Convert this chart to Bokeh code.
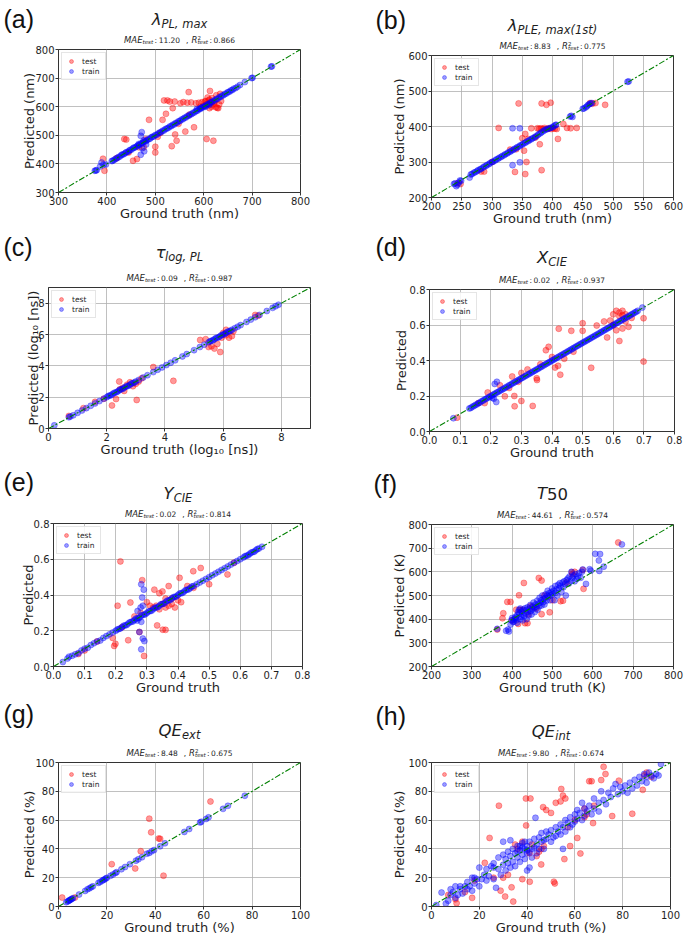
from bokeh.plotting import figure
from bokeh.models import Label, FixedTicker, Range1d, PrintfTickFormatter
from bokeh.layouts import column, row
from bokeh.embed import file_html
from bokeh.resources import INLINE

# ---------------- data ----------------
a_train = [(375,376),(377,377),(379,378),(386,391),(389,405),(393,397),(398,398),(410,410),(412,411),(415,414),(418,418),(421,420),(424,424),(427,426),(430,431),(432,433),(435,434),(438,438),(440,441),(443,442),(446,446),(448,449),(451,450),(454,455),(456,457),(459,458),(462,462),(464,465),(467,466),(470,471),(473,472),(475,476),(478,478),(481,480),(483,484),(486,486),(489,488),(492,493),(494,495),(497,496),(500,501),(503,502),(506,506),(509,510),(512,511),(515,516),(518,517),(521,522),(524,524),(527,526),(530,531),(533,532),(536,537),(539,538),(542,543),(545,544),(548,549),(551,550),(554,555),(557,556),(560,561),(563,562),(566,567),(569,568),(572,573),(575,574),(578,579),(581,580),(584,585),(587,586),(590,591),(593,592),(596,597),(599,598),(602,603),(605,604),(608,609),(611,610),(614,615),(617,616),(620,621),(623,622),(626,627),(629,628),(632,633),(635,634),(638,639),(641,640),(644,645),(647,646),(650,651),(653,652),(656,657),(659,658),(662,663),(666,665),(670,670),(675,676),(685,686),(699,700),(701,701),(739,740),(741,741),(472,511),(470,498),(476,482),(473,455),(477,444),(470,432),(466,470),(481,468),(586,592),(594,596),(604,600),(612,607)]
a_test = [(392,418),(395,376),(420,420),(436,487),(440,485),(445,440),(454,411),(462,417),(466,458),(476,458),(480,486),(487,554),(500,460),(500,440),(505,495),(510,508),(515,554),(518,622),(522,575),(525,622),(530,618),(534,462),(536,595),(540,618),(541,503),(544,481),(548,540),(552,612),(558,616),(562,513),(566,614),(569,651),(570,572),(574,615),(580,528),(584,612),(590,614),(593,600),(597,616),(600,603),(603,618),(606,487),(607,610),(610,622),(612,595),(613,655),(615,615),(617,630),(618,606),(620,481),(621,612),(623,618),(625,598),(626,640),(628,596),(630,595),(632,608),(634,645),(636,620),(612,625),(608,632),(604,620),(616,600)]

b_train = [(237,238),(239,240),(241,232),(243,236),(245,242),(247,248),(249,247),(263,256),(265,265),(267,266),(270,270),(272,271),(275,274),(277,277),(280,279),(282,281),(285,284),(287,287),(290,289),(292,292),(295,294),(297,297),(300,300),(302,301),(305,304),(307,307),(310,309),(312,312),(315,314),(317,317),(320,319),(322,322),(325,324),(327,327),(330,329),(332,332),(335,334),(337,337),(340,339),(342,342),(345,344),(347,347),(350,349),(352,352),(355,354),(357,357),(360,359),(362,362),(365,364),(367,367),(370,369),(372,372),(375,375),(377,378),(380,381),(382,384),(385,387),(387,390),(390,392),(392,393),(395,395),(397,396),(400,398),(402,401),(405,404),(406,405),(429,428),(431,430),(433,427),(450,450),(452,451),(455,454),(457,457),(459,461),(461,463),(463,465),(465,466),(524,526),(526,527),(334,395),(346,395),(334,291),(346,299)]
b_test = [(243,240),(248,238),(282,273),(287,273),(300,300),(311,396),(330,335),(338,272),(340,336),(344,465),(350,367),(353,332),(355,379),(355,266),(357,300),(360,365),(365,395),(372,369),(375,395),(378,394),(379,350),(381,395),(382,277),(382,465),(384,393),(387,396),(390,461),(391,393),(394,395),(397,467),(398,393),(401,395),(404,394),(407,393),(409,365),(418,407),(424,396),(430,395),(440,396),(462,466),(466,464),(471,466),(487,461)]

c_train = [(0.2,0.2),(0.7,0.72),(0.75,0.76),(0.85,0.84),(1.0,1.0),(1.15,1.15),(1.3,1.3),(1.45,1.45),(1.6,1.6),(1.75,1.75),(1.9,1.9),(2.0,2.0),(2.05,2.07),(2.1,2.1),(2.15,2.13),(2.2,2.2),(2.25,2.27),(2.3,2.3),(2.35,2.33),(2.4,2.4),(2.45,2.47),(2.5,2.5),(2.55,2.53),(2.6,2.6),(2.65,2.67),(2.7,2.7),(2.75,2.73),(2.8,2.8),(2.85,2.87),(2.9,2.9),(2.95,2.93),(3.0,3.0),(3.1,3.1),(3.25,3.25),(3.4,3.4),(3.6,3.6),(3.75,3.75),(3.9,3.9),(4.05,4.05),(4.2,4.2),(4.35,4.35),(4.6,4.6),(4.75,4.75),(5.0,5.0),(5.2,5.2),(5.35,5.35),(5.5,5.5),(5.55,5.57),(5.6,5.6),(5.65,5.63),(5.7,5.7),(5.75,5.77),(5.8,5.8),(5.85,5.83),(5.9,5.9),(5.95,5.97),(6.0,6.0),(6.05,6.03),(6.1,6.1),(6.15,6.17),(6.2,6.2),(6.25,6.23),(6.3,6.3),(6.4,6.4),(6.5,6.5),(6.6,6.6),(6.8,6.8),(6.95,6.95),(7.1,7.1),(7.25,7.25),(7.5,7.5),(7.7,7.7),(7.8,7.8),(7.9,7.9)]
c_test = [(0.7,0.8),(1.2,1.3),(1.6,1.7),(1.9,1.9),(2.18,1.47),(2.32,1.88),(2.43,3.0),(2.45,2.5),(2.55,2.6),(2.6,2.4),(2.7,2.8),(2.8,2.95),(2.9,2.7),(3.0,2.85),(3.03,1.82),(3.1,3.0),(3.2,3.2),(3.6,3.92),(4.29,3.04),(5.21,5.65),(5.4,5.7),(5.5,5.2),(5.6,5.25),(5.7,5.1),(5.8,5.4),(5.9,4.88),(5.95,5.8),(6.0,6.1),(6.1,5.95),(6.2,5.8),(6.3,5.9),(6.35,6.2),(6.1,6.3),(7.1,7.25),(7.2,7.2)]

d_train = [(0.078,0.075),(0.13,0.13),(0.135,0.133),(0.14,0.14),(0.145,0.143),(0.15,0.15),(0.155,0.153),(0.16,0.16),(0.165,0.163),(0.17,0.17),(0.175,0.174),(0.18,0.18),(0.185,0.184),(0.19,0.19),(0.195,0.194),(0.2,0.2),(0.205,0.204),(0.21,0.21),(0.215,0.214),(0.22,0.22),(0.225,0.224),(0.23,0.23),(0.235,0.234),(0.24,0.24),(0.245,0.244),(0.25,0.25),(0.255,0.254),(0.26,0.26),(0.265,0.264),(0.27,0.27),(0.275,0.274),(0.28,0.28),(0.285,0.284),(0.29,0.29),(0.295,0.294),(0.3,0.3),(0.305,0.304),(0.31,0.31),(0.315,0.314),(0.32,0.32),(0.325,0.324),(0.33,0.33),(0.335,0.334),(0.34,0.34),(0.345,0.344),(0.35,0.35),(0.355,0.354),(0.36,0.36),(0.365,0.364),(0.37,0.37),(0.375,0.374),(0.38,0.38),(0.385,0.384),(0.39,0.39),(0.395,0.394),(0.4,0.4),(0.405,0.404),(0.41,0.41),(0.415,0.414),(0.42,0.42),(0.425,0.424),(0.43,0.43),(0.435,0.434),(0.44,0.44),(0.445,0.444),(0.45,0.45),(0.455,0.454),(0.46,0.46),(0.465,0.464),(0.47,0.47),(0.475,0.474),(0.48,0.48),(0.485,0.484),(0.49,0.49),(0.495,0.494),(0.5,0.5),(0.505,0.504),(0.51,0.51),(0.515,0.514),(0.52,0.52),(0.525,0.524),(0.53,0.53),(0.535,0.534),(0.54,0.54),(0.545,0.544),(0.55,0.55),(0.555,0.554),(0.56,0.56),(0.565,0.564),(0.57,0.57),(0.575,0.574),(0.58,0.58),(0.585,0.584),(0.59,0.59),(0.595,0.594),(0.6,0.6),(0.605,0.604),(0.61,0.61),(0.615,0.614),(0.62,0.62),(0.625,0.624),(0.63,0.63),(0.635,0.634),(0.64,0.64),(0.645,0.644),(0.65,0.65),(0.655,0.654),(0.66,0.66),(0.665,0.664),(0.67,0.67),(0.675,0.674),(0.68,0.68),(0.695,0.698),(0.213,0.268),(0.22,0.28),(0.21,0.185),(0.218,0.166),(0.205,0.19)]
d_test = [(0.09,0.078),(0.16,0.16),(0.18,0.16),(0.19,0.22),(0.23,0.26),(0.246,0.198),(0.26,0.245),(0.27,0.31),(0.277,0.2),(0.278,0.142),(0.29,0.28),(0.3,0.172),(0.3,0.33),(0.32,0.35),(0.337,0.144),(0.35,0.3),(0.351,0.29),(0.362,0.379),(0.38,0.458),(0.389,0.477),(0.4,0.42),(0.41,0.36),(0.42,0.37),(0.422,0.579),(0.427,0.32),(0.44,0.41),(0.463,0.567),(0.47,0.45),(0.5,0.61),(0.5,0.567),(0.528,0.359),(0.546,0.597),(0.57,0.62),(0.58,0.53),(0.59,0.625),(0.6,0.66),(0.6,0.6),(0.61,0.68),(0.61,0.57),(0.62,0.65),(0.62,0.51),(0.63,0.68),(0.63,0.58),(0.64,0.66),(0.64,0.62),(0.65,0.59),(0.66,0.64),(0.62,0.67),(0.63,0.655),(0.699,0.394),(0.699,0.638)]

e_train = [(0.03,0.025),(0.045,0.045),(0.05,0.055),(0.06,0.06),(0.07,0.068),(0.08,0.075),(0.09,0.09),(0.1,0.1),(0.11,0.105),(0.12,0.12),(0.13,0.13),(0.14,0.14),(0.15,0.145),(0.16,0.16),(0.17,0.17),(0.18,0.18),(0.19,0.19),(0.2,0.2),(0.21,0.21),(0.22,0.22),(0.23,0.23),(0.24,0.24),(0.25,0.25),(0.26,0.26),(0.27,0.27),(0.28,0.28),(0.29,0.29),(0.3,0.3),(0.31,0.31),(0.32,0.32),(0.33,0.33),(0.34,0.34),(0.35,0.35),(0.36,0.36),(0.37,0.37),(0.38,0.38),(0.39,0.39),(0.4,0.4),(0.41,0.41),(0.42,0.42),(0.43,0.43),(0.44,0.44),(0.45,0.45),(0.46,0.46),(0.47,0.47),(0.48,0.48),(0.49,0.49),(0.5,0.5),(0.51,0.51),(0.52,0.52),(0.53,0.53),(0.54,0.54),(0.55,0.55),(0.56,0.56),(0.57,0.57),(0.58,0.58),(0.59,0.59),(0.6,0.6),(0.61,0.61),(0.62,0.62),(0.63,0.63),(0.64,0.64),(0.65,0.65),(0.66,0.66),(0.67,0.67),(0.205,0.207),(0.215,0.213),(0.225,0.228),(0.235,0.232),(0.245,0.247),(0.255,0.252),(0.265,0.268),(0.275,0.272),(0.285,0.288),(0.295,0.292),(0.305,0.307),(0.315,0.312),(0.325,0.328),(0.335,0.332),(0.345,0.348),(0.355,0.352),(0.365,0.368),(0.375,0.372),(0.385,0.388),(0.395,0.392),(0.405,0.408),(0.415,0.412),(0.425,0.428),(0.435,0.432),(0.445,0.448),(0.615,0.617),(0.625,0.622),(0.635,0.637),(0.645,0.642),(0.655,0.657),(0.282,0.46),(0.29,0.43),(0.285,0.386),(0.287,0.34),(0.282,0.25),(0.269,0.257),(0.287,0.156),(0.292,0.142),(0.282,0.096),(0.276,0.193),(0.27,0.31),(0.28,0.33)]
e_test = [(0.08,0.07),(0.1,0.09),(0.14,0.14),(0.19,0.16),(0.199,0.127),(0.195,0.115),(0.206,0.34),(0.215,0.588),(0.22,0.22),(0.24,0.147),(0.247,0.358),(0.26,0.28),(0.276,0.193),(0.28,0.3),(0.285,0.483),(0.291,0.059),(0.3,0.36),(0.31,0.34),(0.32,0.33),(0.324,0.43),(0.33,0.34),(0.333,0.23),(0.34,0.41),(0.34,0.32),(0.35,0.42),(0.35,0.35),(0.351,0.206),(0.36,0.205),(0.36,0.38),(0.36,0.33),(0.37,0.45),(0.37,0.34),(0.38,0.35),(0.38,0.38),(0.39,0.33),(0.4,0.37),(0.405,0.496),(0.41,0.36),(0.43,0.45),(0.449,0.533),(0.45,0.44),(0.473,0.551),(0.5,0.46),(0.559,0.515),(0.58,0.58)]

f_train = [(363,359),(385,351),(390,356),(392,348),(396,377),(398,395),(400,405),(402,388),(404,390),(405,400),(408,410),(409,404),(410,395),(412,385),(413,418),(415,430),(417,440),(418,425),(420,400),(420,445),(422,410),(424,432),(425,420),(426,395),(428,440),(430,412),(432,446),(433,425),(435,438),(436,400),(438,450),(440,430),(441,415),(443,445),(445,460),(446,435),(448,420),(450,442),(451,455),(453,470),(455,448),(456,430),(458,462),(460,452),(462,478),(463,440),(465,465),(467,455),(468,490),(470,470),(472,480),(473,458),(475,500),(477,472),(478,485),(480,462),(482,490),(483,505),(485,478),(487,500),(488,520),(490,495),(492,510),(494,480),(495,500),(497,515),(499,530),(500,505),(503,520),(505,480),(507,540),(508,512),(510,525),(512,500),(514,545),(516,530),(518,552),(520,540),(522,515),(525,555),(527,535),(529,560),(531,548),(533,500),(535,565),(538,572),(540,550),(542,580),(545,560),(547,600),(549,575),(552,585),(555,560),(557,590),(560,570),(563,580),(566,595),(570,575),(573,600),(575,610),(583,549),(592,611),(595,605),(606,676),(615,648),(616,604),(618,675),(627,622),(672,716)]
f_test = [(363,356),(376,404),(378,425),(388,473),(396,473),(400,395),(410,440),(415,380),(417,501),(420,440),(425,440),(429,553),(432,383),(438,383),(440,420),(445,455),(450,450),(460,445),(466,574),(473,563),(473,421),(480,500),(493,429),(500,480),(520,476),(526,478),(535,555),(548,598),(549,590),(555,600),(575,608),(577,528),(663,724)]

g_train = [(3.2,3.0),(3.8,3.5),(4.2,4.0),(4.5,4.2),(4.8,4.6),(5.2,5.0),(5.6,5.4),(6.0,5.8),(8.5,8.3),(11.0,10.8),(12.0,12.0),(12.8,12.6),(13.5,13.4),(14.2,14.0),(16.5,16.4),(17.2,17.0),(18.0,17.8),(18.5,18.4),(19.0,18.8),(19.5,19.4),(20.0,19.9),(21.5,21.3),(22.5,22.2),(23.5,23.3),(24.0,23.8),(26.0,25.9),(27.5,27.4),(29.5,29.4),(32.0,31.8),(33.0,32.8),(34.5,34.2),(36.5,36.6),(37.5,37.2),(38.5,38.3),(39.5,39.2),(42.0,41.8),(44.0,43.9),(52.0,51.8),(54.0,53.8),(58.5,58.4),(59.0,58.8),(61.0,60.8),(62.0,61.9),(68.0,67.8),(70.0,69.9),(77.0,76.9)]
g_test = [(1.5,6.2),(6.8,6.2),(22.0,29.4),(31.7,26.4),(34.0,38.4),(37.5,61.0),(38.3,51.5),(41.4,47.2),(42.0,47.0),(43.4,21.4),(62.8,72.9)]

h_train = [(2,1),(4.2,9.7),(6,2),(7,4),(8,8),(8,12),(9,10),(10,14),(10,6),(11,8),(12,12),(12,14),(13,9),(14,14),(15,12),(15,17),(16,14),(17,20),(17,11),(18,16),(18,20),(19,19),(20,14),(20,27),(21,19),(22,22),(23,26),(23,18),(24,21),(25,28),(26,19),(26,30),(27,13),(28,26),(28,34),(29,22),(30,29),(30,36),(31,25),(31,33),(32,38),(32,30),(33,27),(33,35),(34,40),(34,31),(35,37),(35,28),(36,42),(36,34),(37,39),(37,31),(38,36),(38,44),(39,40),(39,33),(40,42),(40,37),(41,45),(41,38),(42,40),(42,34),(43,47),(43,41),(44,43),(44,37),(45,48),(45,40),(46,45),(46,51),(47,46),(47,40),(48,52),(48,47),(49,50),(50,53),(50,45),(51,48),(52,55),(52,49),(53,52),(54,50),(54,57),(55,55),(56,60),(56,52),(57,58),(58,62),(58,55),(59,57),(60,64),(60,59),(61,67),(61,61),(62,65),(63,72),(63,60),(64,68),(64,63),(65,66),(66,70),(67,64),(68,68),(68,75),(70,72),(70,66),(71,80),(72,74),(73,71),(74,79),(75,76),(76,82),(77,85),(78,78),(79,83),(80,80),(81,84),(82,79),(83,86),(84,82),(85,88),(86,84),(87,90),(88,87),(89,92),(90,90),(90,86),(91,93),(92,91),(93,89),(94,92),(95,91),(96,99),(30,45),(43.5,61.6),(33,46),(55,40),(41,27),(40,25),(26,27),(36,38),(38,41),(40,39),(37,42),(39,45)]
h_test = [(7,8),(10.5,2.3),(10,5),(14,10),(17,6),(18,18),(22.3,30.3),(24.3,47.6),(26,20),(28.2,70),(28.9,11),(30.8,6.9),(30,20),(32,22),(33.5,13.3),(34.2,3.4),(35,43),(36,40),(38,19),(38,45),(39.6,56.3),(39.5,75),(41.1,17.2),(41.4,75),(41,37),(42,43),(44,35),(45,38),(45.9,29.2),(46,40),(46.7,69),(47,42),(48,67),(50,65),(51.2,17.2),(51.6,16),(52,72),(54,73),(54.3,81.6),(55,77),(55.6,32.9),(56,75),(57,55),(58,42),(60,60),(61,47.6),(62.3,36.8),(64,62),(64,68),(65,64),(66,87),(67,87),(67.6,57.9),(68,70),(71,87.8),(72,97),(72.8,92),(75.6,62.8),(78.4,87.4),(84,64.4),(88.4,81),(89,91),(90,93),(92,90)]

# axis limits and tick values
a_lims = [300, 800]; a_xticks = [300, 400, 500, 600, 700, 800]; a_yticks = [300, 400, 500, 600, 700, 800]
b_lims = [200, 600]; b_xticks = [200, 250, 300, 350, 400, 450, 500, 550, 600]; b_yticks = [200, 300, 400, 500, 600]
c_lims = [0, 9]; c_xticks = [0, 2, 4, 6, 8]; c_yticks = [0, 2, 4, 6, 8]
d_lims = [0, 0.8]; d_xticks = [0, 0.1, 0.2, 0.3, 0.4, 0.5, 0.6, 0.7, 0.8]; d_yticks = [0, 0.2, 0.4, 0.6, 0.8]
e_lims = [0, 0.8]; e_xticks = [0, 0.1, 0.2, 0.3, 0.4, 0.5, 0.6, 0.7, 0.8]; e_yticks = [0, 0.2, 0.4, 0.6, 0.8]
f_lims = [200, 800]; f_xticks = [200, 300, 400, 500, 600, 700, 800]; f_yticks = [200, 300, 400, 500, 600, 700, 800]
g_lims = [0, 100]; g_xticks = [0, 20, 40, 60, 80, 100]; g_yticks = [0, 20, 40, 60, 80, 100]
h_lims = [0, 100]; h_xticks = [0, 20, 40, 60, 80, 100]; h_yticks = [0, 20, 40, 60, 80, 100]

panel_letters = ["(a)", "(b)", "(c)", "(d)", "(e)", "(f)", "(g)", "(h)"]
mae_values = ["11.20", "8.83", "0.09", "0.02", "0.02", "44.61", "8.48", "9.80"]
r2_values = ["0.866", "0.775", "0.987", "0.937", "0.814", "0.574", "0.675", "0.674"]
title_main = ["λ", "λ", "τ", "X", "Y", "T", "QE", "QE"]
title_sub = ["PL, max", "PLE, max(1st)", "log, PL", "CIE", "CIE", "", "ext", "int"]
x_labels = ["Ground truth (nm)", "Ground truth (nm)", "Ground truth (log₁₀ [ns])", "Ground truth",
            "Ground truth", "Ground truth (K)", "Ground truth (%)", "Ground truth (%)"]
y_labels = ["Predicted (nm)", "Predicted (nm)", "Predicted (log₁₀ [ns])", "Predicted",
            "Predicted", "Predicted (K)", "Predicted (%)", "Predicted (%)"]

# ---------------- helpers ----------------
CW = {' ': .318, ':': .337, ',': .318, '.': .318, '(': .39, ')': .39, '[': .39, ']': .39,
      'A': .684, 'C': .698, 'E': .632, 'I': .295, 'L': .557, 'M': .863, 'P': .603, 'Q': .787,
      'R': .695, 'T': .611, 'X': .685, 'Y': .611, 'G': .775,
      'a': .613, 'd': .635, 'e': .615, 'g': .635, 'h': .634, 'i': .278, 'l': .278, 'm': .974,
      'n': .634, 'o': .612, 'r': .411, 's': .521, 't': .392, 'u': .634, 'x': .592,
      'λ': .592, 'τ': .55}
for _d in "0123456789":
    CW[_d] = .636

TXT = "#1e1e1e"
FONT = "DejaVu Sans"
TOP_IN = 4      # border above the frame inside the plot figure
MID = 0.35      # distance from baseline to the middle of the font box, in em


def tw(s, size):
    return sum(CW.get(ch, 0.6) for ch in s) * size


def put(p, text, x, base, size, style="normal", font=FONT, color=TXT):
    """Place text so that its baseline sits at `base` (screen px from the bottom)."""
    p.add_layout(Label(x=x, y=base + MID * size, x_units="screen", y_units="screen", text=text,
                       text_font=font, text_font_size=f"{size}px", text_font_style=style,
                       text_color=color, text_align="left", text_baseline="middle"))


def rich(p, parts, x, y):
    """parts: tuples (text, size, dy, style, advance) or ('GAP', px); centred on x."""
    total = 0
    for pt in parts:
        if pt[0] == "GAP":
            total += pt[1]
        elif pt[4]:
            total += tw(pt[0], pt[1])
    cx = x - total / 2
    for pt in parts:
        if pt[0] == "GAP":
            cx += pt[1]
            continue
        t, s, dy, st, adv = pt
        put(p, t, cx, y + dy, s, st)
        if adv:
            cx += tw(t, s)


def blank(W, H):
    q = figure(width=W, height=H, x_range=Range1d(0, W), y_range=Range1d(0, H),
               x_axis_type=None, y_axis_type=None, output_backend="svg", toolbar_location=None,
               min_border=0, min_border_left=0, min_border_right=0, min_border_top=0,
               min_border_bottom=0, frame_align=False)
    q.outline_line_color = None
    q.background_fill_color = "white"
    q.border_fill_color = "white"
    return q


# geometry: cell width, height, frame borders l, r, t, b ; letter x ; offsets above frame ; y-label standoff
GEOM = [
    dict(W=342, H=232, l=58, r=42, t=49, b=40, lx=3, lo=22, to=24, ys=-5),
    dict(W=343, H=232, l=89, r=12, t=55, b=35, lx=33, lo=27, to=24, ys=-2),
    dict(W=342, H=230, l=48, r=32, t=55, b=34, lx=3, lo=32, to=29, ys=-6),
    dict(W=343, H=230, l=87, r=11, t=57, b=29, lx=33, lo=34, to=26, ys=-2),
    dict(W=342, H=235, l=53, r=40, t=61, b=29, lx=3, lo=33, to=24, ys=-5),
    dict(W=343, H=235, l=89, r=12, t=62, b=28, lx=31, lo=32, to=25, ys=-2),
    dict(W=342, H=240, l=58, r=42, t=65, b=30, lx=3, lo=40, to=26, ys=-5),
    dict(W=343, H=240, l=89, r=15, t=65, b=30, lx=33, lo=38, to=25, ys=-2),
]

SERIES = [(a_train, a_test, a_lims, a_xticks, a_yticks), (b_train, b_test, b_lims, b_xticks, b_yticks),
          (c_train, c_test, c_lims, c_xticks, c_yticks), (d_train, d_test, d_lims, d_xticks, d_yticks),
          (e_train, e_test, e_lims, e_xticks, e_yticks), (f_train, f_test, f_lims, f_xticks, f_yticks),
          (g_train, g_test, g_lims, g_xticks, g_yticks), (h_train, h_test, h_lims, h_xticks, h_yticks)]


def make_cell(i):
    g = GEOM[i]
    train, test, lims, xt, yt = SERIES[i]
    W = g["W"]
    fw = W - g["l"] - g["r"]
    fh = g["H"] - g["t"] - g["b"]
    cx = g["l"] + fw / 2

    # ---- header: letter, title, scores ----
    hh = g["t"] - TOP_IN
    head = blank(W, hh)
    put(head, panel_letters[i], g["lx"], g["lo"] - TOP_IN, 25, font="Liberation Sans", color="#111111")
    if title_sub[i]:
        tparts = [(title_main[i], 16.5, 0, "italic", True), (title_sub[i], 11.5, -3, "italic", True)]
    else:
        tparts = [(title_main[i], 16.5, 0, "italic", True), ("50", 16.5, 0, "normal", True)]
    rich(head, tparts, cx, g["to"] - TOP_IN)
    sparts = [("MAE", 8.5, 0, "italic", True), ("test", 5.5, -1.2, "italic", True), ("GAP", 1.5),
              (":", 7.5, 0, "normal", True), ("GAP", 1.5), (mae_values[i], 7.5, 0, "normal", True),
              ("GAP", 6), (",", 7.5, 0, "normal", True), ("GAP", 3),
              ("R", 8.5, 0, "italic", True), ("2", 5.5, 3.5, "normal", False),
              ("test", 5.5, -1.2, "italic", True), ("GAP", 1.5), (":", 7.5, 0, "normal", True),
              ("GAP", 1.5), (r2_values[i], 7.5, 0, "normal", True)]
    rich(head, sparts, cx, 2.5)

    # ---- scatter plot ----
    p = figure(width=W, height=TOP_IN + fh + g["b"], x_range=Range1d(lims[0], lims[1]),
               y_range=Range1d(lims[0], lims[1]), output_backend="svg", toolbar_location=None,
               min_border_left=g["l"], min_border_right=g["r"], min_border_top=TOP_IN,
               min_border_bottom=g["b"], frame_align=False)
    p.background_fill_color = "white"
    p.border_fill_color = "white"
    p.outline_line_color = "#333333"
    p.outline_line_width = 1

    p.scatter([q[0] for q in test], [q[1] for q in test], size=6, fill_color="#ff0000",
              fill_alpha=0.4, line_color="#ff0000", line_alpha=0.4, line_width=0.8,
              legend_label="test")
    p.scatter([q[0] for q in train], [q[1] for q in train], size=6, fill_color="#0000ff",
              fill_alpha=0.4, line_color="#0000ff", line_alpha=0.4, line_width=0.8,
              legend_label="train")
    p.line(lims, lims, line_color="#008000", line_width=1.1, line_dash="6 2 2 2")

    p.xaxis.ticker = FixedTicker(ticks=xt)
    p.yaxis.ticker = FixedTicker(ticks=yt)
    p.xgrid.ticker = FixedTicker(ticks=xt)
    p.ygrid.ticker = FixedTicker(ticks=yt)
    if lims[1] < 1:
        p.xaxis.formatter = PrintfTickFormatter(format="%.1f")
        p.yaxis.formatter = PrintfTickFormatter(format="%.1f")
    for ax in (p.xaxis[0], p.yaxis[0]):
        ax.major_label_text_font = FONT
        ax.major_label_text_font_size = "10px"
        ax.major_label_text_color = TXT
        ax.major_tick_out = 3
        ax.major_tick_in = 0
        ax.minor_tick_out = 0
        ax.minor_tick_in = 0
        ax.major_tick_line_color = "#333333"
        ax.axis_line_color = "#333333"
        ax.major_label_standoff = 1
        ax.axis_label_text_font = FONT
        ax.axis_label_text_font_size = "13px"
        ax.axis_label_text_font_style = "normal"
        ax.axis_label_text_color = TXT
    p.xaxis.axis_label = x_labels[i]
    p.xaxis.axis_label_standoff = -2
    p.yaxis.axis_label = y_labels[i]
    p.yaxis.axis_label_standoff = g["ys"]
    p.grid.grid_line_color = "#b0b0b0"
    p.grid.grid_line_width = 0.8

    lg = p.legend[0]
    lg.location = "top_left"
    lg.margin = 3
    lg.padding = 3
    lg.spacing = 0
    lg.glyph_width = 12
    lg.glyph_height = 10
    lg.label_height = 10
    lg.label_standoff = 5
    lg.label_text_font = FONT
    lg.label_text_font_size = "7.5px"
    lg.label_text_color = TXT
    lg.border_line_color = "#cccccc"
    lg.background_fill_alpha = 0.85

    return column(head, p, spacing=0)


cells = [make_cell(i) for i in range(8)]
layout = column(row(cells[0], cells[1], spacing=0), row(cells[2], cells[3], spacing=0),
                row(cells[4], cells[5], spacing=0), row(cells[6], cells[7], spacing=0), spacing=0)

open("out.html", "w").write(file_html(layout, INLINE))
